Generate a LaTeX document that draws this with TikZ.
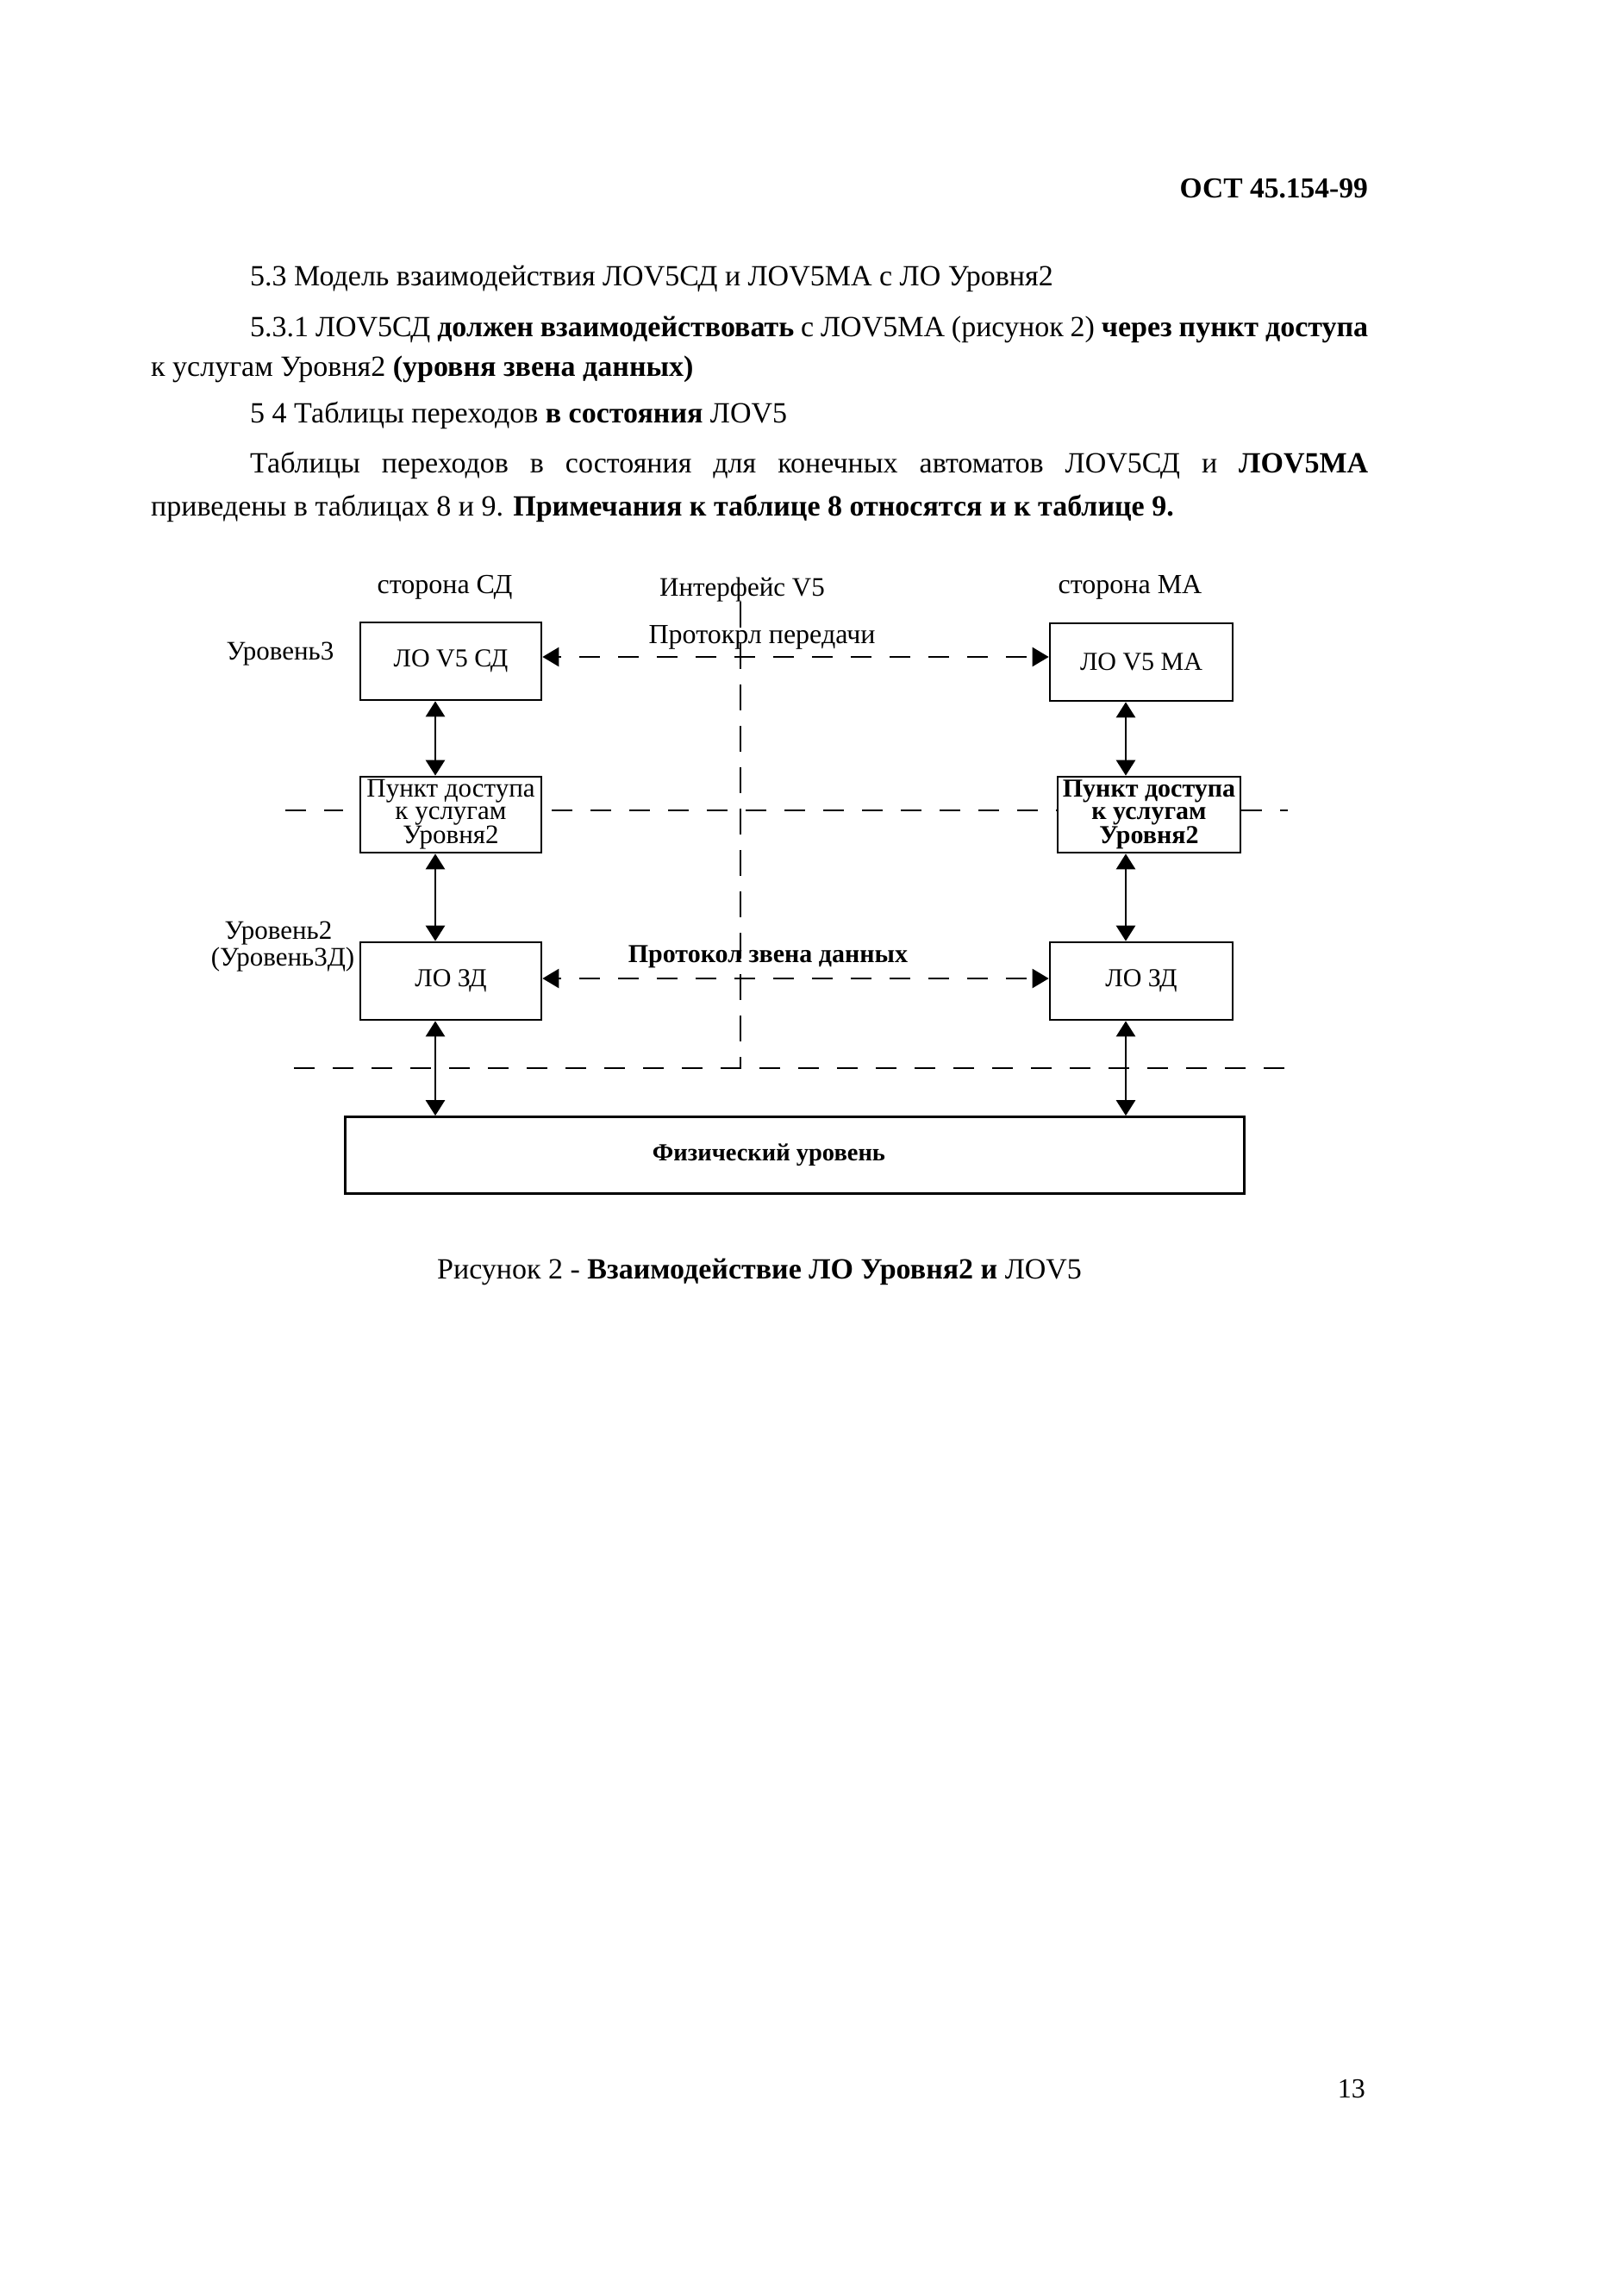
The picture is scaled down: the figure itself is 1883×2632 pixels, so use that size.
\documentclass[tikz,border=0pt]{standalone}
\usepackage{fontspec}
\setmainfont{Liberation Serif}
\usetikzlibrary{arrows.meta}
\begin{document}
\begin{tikzpicture}[x=1pt,y=-1pt,
  body/.style={anchor=base west, inner sep=0pt, font=\fontsize{34}{40}\selectfont},
  lbl/.style={inner sep=0pt, font=\fontsize{31}{31}\selectfont, align=center},
  box/.style={draw, line width=2.7pt, inner sep=0pt, minimum width=210pt, minimum height=88pt,
              font=\fontsize{30}{30}\selectfont, align=center},
  sapbox/.style={box, font=\fontsize{31}{26}\selectfont},
  dbl/.style={line width=2.7pt, {Triangle[length=18pt,width=22pt]}-{Triangle[length=18pt,width=22pt]}},
  proto/.style={line width=2.4pt, dash pattern=on 24pt off 21pt, dash phase=21pt, {Triangle[length=19pt,width=22pt]}-{Triangle[length=19pt,width=22pt]}},
  sep/.style={line width=2.4pt, dash pattern=on 24pt off 21pt},
  iface/.style={line width=2.4pt, dash pattern=on 30pt off 18pt}
]
\useasboundingbox (0,0) rectangle (1883,2632);

% header and text
\node[anchor=base east, inner sep=0pt, font=\fontsize{33.5}{38}\selectfont\bfseries] (hdr) at (1587,229) {ОСТ 45.154-99};
\node[body] (t1) at (290,331) {5.3 Модель взаимодействия ЛОV5СД и ЛОV5МА с ЛО Уровня2};
\node[body] (t2) at (290,390) {\makebox[1297pt][s]{5.3.1 ЛОV5СД \textbf{должен взаимодействовать} с ЛОV5МА (рисунок 2) \textbf{через пункт доступа}}};
\node[body] (t3) at (175,436) {к услугам Уровня2 \textbf{(уровня звена данных)}};
\node[body] (t4) at (290,490) {5 4 Таблицы переходов \textbf{в состояния} ЛОV5};
\node[body] (t5) at (290,548) {\makebox[1297pt][s]{Таблицы переходов в состояния для конечных автоматов ЛОV5СД и \textbf{ЛОV5МА}}};
\node[body] (t6) at (175,598) {приведены в таблицах 8 и 9. \textbf{Примечания к таблице 8 относятся и к таблице 9.}};

% column headings
\node[lbl, font=\fontsize{32}{32}\selectfont] (sdh) at (516,681) {сторона СД};
\node[lbl] (ifh) at (861,684) {Интерфейс V5};
\node[lbl, font=\fontsize{32}{32}\selectfont] (mah) at (1311,681) {сторона МА};

% level labels
\node[lbl] (lv3) at (325,759) {Уровень3};
\node[lbl] (lv2) at (323,1083) {Уровень2};
\node[lbl] (lv2b) at (328,1113) {(Уровень3Д)};

% boxes
\node[box, minimum height=90pt] (sd3) at (523,767) {ЛО V5 СД};
\node[box, minimum width=212pt, minimum height=90pt] (ma3) at (1324,768) {ЛО V5 МА};
\node[sapbox] (sdP) at (523,945) {Пункт доступа\\к услугам\\Уровня2};
\node[sapbox, minimum width=212pt, font=\fontsize{30}{26}\selectfont\bfseries] (maP) at (1333,945) {Пункт доступа\\к услугам\\Уровня2};
\node[box, minimum height=90pt] (sd2) at (523,1138) {ЛО ЗД};
\node[box, minimum width=212pt, minimum height=90pt] (ma2) at (1324,1138) {ЛО ЗД};
\node[draw, line width=2.7pt, inner sep=0pt, minimum width=1043pt, minimum height=89pt] (phys) at (922,1340) {};
\node[inner sep=0pt, font=\fontsize{28.5}{28.5}\selectfont\bfseries] (physt) at (892,1340) {Физический уровень};

% protocol labels
\node[lbl, font=\fontsize{32}{32}\selectfont] (p1) at (884,739) {Протокрл передачи};
\node[lbl, font=\fontsize{30}{30}\selectfont\bfseries] (p2) at (891,1110) {Протокол звена данных};

% axes
\coordinate (axl) at (505,0);
\coordinate (axr) at (1306,0);
\coordinate (ya) at (0,762);
\coordinate (yb) at (0,1135);
\coordinate (ym) at (0,940);
\coordinate (yl) at (0,1239);

% vertical arrows
\draw[dbl] (sd3.south -| axl) -- (sdP.north -| axl);
\draw[dbl] (sdP.south -| axl) -- (sd2.north -| axl);
\draw[dbl] (sd2.south -| axl) -- (phys.north -| axl);
\draw[dbl] (ma3.south -| axr) -- (maP.north -| axr);
\draw[dbl] (maP.south -| axr) -- (ma2.north -| axr);
\draw[dbl] (ma2.south -| axr) -- (phys.north -| axr);

% protocol arrows
\draw[proto] (sd3.east |- ya) -- (ma3.west |- ya);
\draw[proto] (sd2.east |- yb) -- (ma2.west |- yb);

% separators
\coordinate (m0) at (331,940);
\coordinate (m1) at (398,940);
\coordinate (m2) at (640,940);
\coordinate (m3) at (1494,940);
\draw[sep] (m0) -- (m1);
\draw[sep] (m2) -- (maP.west |- ym);
\draw[sep] (maP.east |- ym) -- (m3);
\coordinate (l0) at (341,1239);
\coordinate (l1) at (1508,1239);
\draw[sep] (l0) -- (l1);

% interface line
\coordinate (i0) at (859,698);
\coordinate (i1) at (859,1239);
\draw[iface] (i0) -- (i1);

% caption and page number
\node[anchor=base west, inner sep=0pt, font=\fontsize{34}{40}\selectfont] (cap) at (507,1483) {Рисунок 2 - \textbf{Взаимодействие ЛО Уровня2 и} ЛОV5};
\node[anchor=base east, inner sep=0pt, font=\fontsize{32}{36}\selectfont] (pg) at (1584,2433) {13};
\end{tikzpicture}
\end{document}
